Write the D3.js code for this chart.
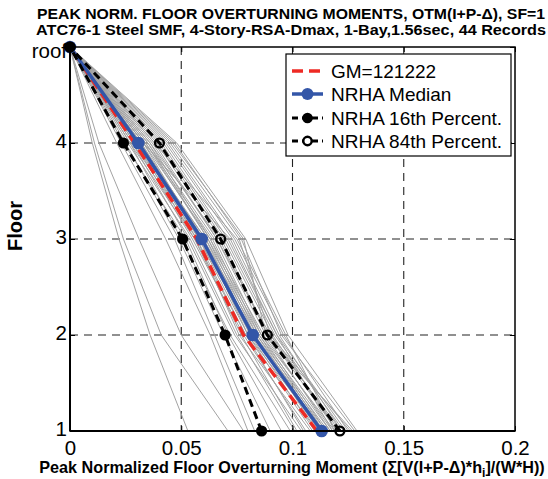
<!DOCTYPE html>
<html>
<head>
<meta charset="utf-8">
<script src="https://cdn.jsdelivr.net/npm/d3@7"></script>
<style>
  html, body { margin: 0; padding: 0; background: #fff; }
  svg { display: block; font-family: "Liberation Sans", Arial, Helvetica, sans-serif; }
</style>
</head>
<body>
<svg id="chart" width="548" height="479"></svg>
<script>
// Floor levels (1..4 and roof = 5) and their tick labels
const floors = [1, 2, 3, 4, 5];
const floorLabels = ["1", "2", "3", "4", "roof"];
const xTicks = [0, 0.05, 0.1, 0.15, 0.2];

// Peak normalized OTM per record (44 records), one array per floor; roof is 0
const otmFloor4 = [0.010, 0.011, 0.013, 0.021, 0.023, 0.025, 0.024, 0.027, 0.026, 0.028, 0.027,
                   0.029, 0.028, 0.030, 0.029, 0.031, 0.030, 0.032, 0.031, 0.033, 0.030, 0.032,
                   0.034, 0.031, 0.033, 0.035, 0.034, 0.036, 0.035, 0.037, 0.036, 0.038, 0.039,
                   0.040, 0.041, 0.042, 0.043, 0.044, 0.045, 0.046, 0.047, 0.048, 0.038, 0.033];
const otmFloor3 = [0.022, 0.024, 0.031, 0.043, 0.047, 0.049, 0.052, 0.050, 0.054, 0.053, 0.056,
                   0.055, 0.057, 0.056, 0.058, 0.057, 0.059, 0.058, 0.060, 0.059, 0.061, 0.060,
                   0.062, 0.061, 0.063, 0.062, 0.064, 0.063, 0.065, 0.066, 0.067, 0.066, 0.068,
                   0.069, 0.070, 0.071, 0.073, 0.074, 0.076, 0.078, 0.077, 0.079, 0.075, 0.072];
const otmFloor2 = [0.036, 0.041, 0.050, 0.063, 0.065, 0.069, 0.071, 0.072, 0.075, 0.074, 0.077,
                   0.078, 0.076, 0.079, 0.080, 0.079, 0.081, 0.082, 0.080, 0.083, 0.082, 0.084,
                   0.083, 0.085, 0.084, 0.086, 0.085, 0.087, 0.086, 0.088, 0.089, 0.090, 0.089,
                   0.091, 0.092, 0.093, 0.094, 0.096, 0.090, 0.088, 0.095, 0.098, 0.097, 0.093];
const otmFloor1 = [0.053, 0.071, 0.078, 0.080, 0.083, 0.090, 0.095, 0.099, 0.101, 0.104, 0.102,
                   0.106, 0.108, 0.105, 0.109, 0.111, 0.110, 0.112, 0.113, 0.111, 0.114, 0.113,
                   0.115, 0.114, 0.116, 0.115, 0.117, 0.118, 0.119, 0.117, 0.120, 0.121, 0.122,
                   0.120, 0.123, 0.124, 0.122, 0.125, 0.126, 0.127, 0.128, 0.129, 0.119, 0.118];

// Summary profiles, floors 1..roof
const gmProfile     = [0.1110, 0.0780, 0.0570, 0.0290, 0];
const medianProfile = [0.1131, 0.0821, 0.0592, 0.0307, 0];
const p16Profile    = [0.0861, 0.0697, 0.0506, 0.0240, 0];
const p84Profile    = [0.1213, 0.0887, 0.0677, 0.0402, 0];

const legendLabels = ["GM=121222", "NRHA Median", "NRHA 16th Percent.", "NRHA 84th Percent."];

const svg = d3.select("#chart");
const plotLeft = 70, plotRight = 515, plotTop = 47, plotBottom = 431;

const x = d3.scaleLinear().domain([0, 0.2]).range([plotLeft, plotRight]);
const y = d3.scaleLinear().domain([1, 5]).range([plotBottom, plotTop]);

const line = d3.line().x(d => x(d[0])).y(d => y(d[1]));
const toPts = arr => arr.map((v, i) => [v, floors[i]]);

// Dashed grid
const grid = svg.append("g");
grid.selectAll("line.gx").data(xTicks.slice(1, -1)).join("line")
  .attr("x1", d => x(d)).attr("x2", d => x(d)).attr("y1", plotTop).attr("y2", plotBottom)
  .attr("stroke", "#222").attr("stroke-width", 1.1).attr("stroke-dasharray", "8,6");
grid.selectAll("line.gy").data([2, 3, 4]).join("line")
  .attr("y1", d => y(d)).attr("y2", d => y(d)).attr("x1", plotLeft).attr("x2", plotRight)
  .attr("stroke", "#222").attr("stroke-width", 1.1).attr("stroke-dasharray", "8,6");

// Individual record profiles
const records = otmFloor1.map((v, i) => [v, otmFloor2[i], otmFloor3[i], otmFloor4[i], 0]);
svg.append("g").selectAll("path").data(records).join("path")
  .attr("d", r => line(toPts(r)))
  .attr("fill", "none").attr("stroke", "#a3a3a3").attr("stroke-width", 1);

// GM profile
svg.append("path").attr("d", line(toPts(gmProfile)))
  .attr("fill", "none").attr("stroke", "#ee2a24").attr("stroke-width", 3.5)
  .attr("stroke-dasharray", "11,6");

// Median
svg.append("path").attr("d", line(toPts(medianProfile)))
  .attr("fill", "none").attr("stroke", "#3356a8").attr("stroke-width", 3.5);
svg.append("g").selectAll("circle").data(toPts(medianProfile)).join("circle")
  .attr("cx", d => x(d[0])).attr("cy", d => y(d[1])).attr("r", 6.3)
  .attr("fill", "#3356a8");

// 16th percentile
svg.append("path").attr("d", line(toPts(p16Profile)))
  .attr("fill", "none").attr("stroke", "#000").attr("stroke-width", 3)
  .attr("stroke-dasharray", "8,5");
svg.append("g").selectAll("circle").data(toPts(p16Profile)).join("circle")
  .attr("cx", d => x(d[0])).attr("cy", d => y(d[1])).attr("r", 5.6)
  .attr("fill", "#000");

// 84th percentile
svg.append("path").attr("d", line(toPts(p84Profile)))
  .attr("fill", "none").attr("stroke", "#000").attr("stroke-width", 3)
  .attr("stroke-dasharray", "8,5");
svg.append("g").selectAll("circle").data(toPts(p84Profile)).join("circle")
  .attr("cx", d => x(d[0])).attr("cy", d => y(d[1])).attr("r", 4.4)
  .attr("fill", "none").attr("stroke", "#000").attr("stroke-width", 2.4);

// Axes box with inward ticks
svg.append("rect").attr("x", plotLeft).attr("y", plotTop)
  .attr("width", plotRight - plotLeft).attr("height", plotBottom - plotTop)
  .attr("fill", "none").attr("stroke", "#000").attr("stroke-width", 1.5);
svg.append("line").attr("x1", plotLeft).attr("x2", plotLeft).attr("y1", plotTop).attr("y2", plotBottom)
  .attr("stroke", "#000").attr("stroke-width", 2);
svg.append("line").attr("x1", plotLeft).attr("x2", plotRight).attr("y1", plotBottom).attr("y2", plotBottom)
  .attr("stroke", "#000").attr("stroke-width", 2);

const tickFont = 20.5;
const xAxis = svg.append("g").attr("transform", `translate(0,${plotBottom})`)
  .call(d3.axisBottom(x).tickValues(xTicks).tickSize(-5).tickPadding(9)
    .tickFormat(d => d === 0 ? "0" : String(+d.toFixed(2))));
xAxis.select(".domain").remove();
xAxis.selectAll("text").attr("font-size", tickFont).attr("fill", "#000")
  .attr("font-family", "Liberation Sans, Arial, sans-serif");
svg.append("g").attr("transform", `translate(0,${plotTop})`)
  .call(d3.axisTop(x).tickValues(xTicks).tickSize(-5).tickFormat(""))
  .select(".domain").remove();

const yAxis = svg.append("g").attr("transform", `translate(${plotLeft},0)`)
  .call(d3.axisLeft(y).tickValues(floors).tickSize(-5).tickPadding(3)
    .tickFormat((d, i) => floorLabels[i]));
yAxis.select(".domain").remove();
yAxis.selectAll("text").attr("font-size", tickFont).attr("fill", "#000")
  .attr("dy", d => d === 5 ? "0.49em" : "0.22em")
  .attr("font-family", "Liberation Sans, Arial, sans-serif");
svg.append("g").attr("transform", `translate(${plotRight},0)`)
  .call(d3.axisRight(y).tickValues(floors).tickSize(-5).tickFormat(""))
  .select(".domain").remove();

// Titles
const title = svg.append("g").attr("font-weight", "bold").attr("font-size", 14);
title.append("text").attr("x", 37).attr("y", 18.8)
  .attr("textLength", 508).attr("lengthAdjust", "spacingAndGlyphs")
  .text("PEAK NORM. FLOOR OVERTURNING MOMENTS, OTM(I+P-\u0394), SF=1");
title.append("text").attr("x", 36).attr("y", 34.6)
  .attr("textLength", 510).attr("lengthAdjust", "spacingAndGlyphs")
  .text("ATC76-1 Steel SMF, 4-Story-RSA-Dmax, 1-Bay,1.56sec, 44 Records");

const xl = svg.append("text").attr("x", 292).attr("y", 473).attr("text-anchor", "middle")
  .attr("font-weight", "bold").attr("font-size", 16.2);
xl.append("tspan").text("Peak Normalized Floor Overturning Moment (\u03A3[V(I+P-\u0394)*h");
xl.append("tspan").attr("font-size", 12).attr("dy", 4).text("i");
xl.append("tspan").attr("dy", -4).text("]/(W*H))");

svg.append("text").attr("transform", "translate(21.5,226) rotate(-90)").attr("text-anchor", "middle")
  .attr("font-weight", "bold").attr("font-size", 20).text("Floor");

// Legend
const lg = svg.append("g");
lg.append("rect").attr("x", 286).attr("y", 54).attr("width", 225).attr("height", 102)
  .attr("fill", "#fff").attr("stroke", "#000").attr("stroke-width", 1.2);
const rowY = [71, 94, 118, 141];
const sx1 = 292, sx2 = 323, smid = 307.5;
// GM sample
lg.append("line").attr("x1", sx1).attr("x2", sx2).attr("y1", rowY[0]).attr("y2", rowY[0])
  .attr("stroke", "#ee2a24").attr("stroke-width", 3.5).attr("stroke-dasharray", "11,6");
// Median sample
lg.append("line").attr("x1", sx1).attr("x2", sx2).attr("y1", rowY[1]).attr("y2", rowY[1])
  .attr("stroke", "#3356a8").attr("stroke-width", 3.5);
lg.append("circle").attr("cx", smid).attr("cy", rowY[1]).attr("r", 6).attr("fill", "#3356a8");
// 16th sample
lg.append("line").attr("x1", sx1).attr("x2", sx2).attr("y1", rowY[2]).attr("y2", rowY[2])
  .attr("stroke", "#000").attr("stroke-width", 3).attr("stroke-dasharray", "6,4");
lg.append("circle").attr("cx", smid).attr("cy", rowY[2]).attr("r", 5.3).attr("fill", "#000");
// 84th sample
lg.append("line").attr("x1", sx1).attr("x2", sx2).attr("y1", rowY[3]).attr("y2", rowY[3])
  .attr("stroke", "#000").attr("stroke-width", 3).attr("stroke-dasharray", "6,4");
lg.append("circle").attr("cx", smid).attr("cy", rowY[3]).attr("r", 4.2).attr("fill", "#fff")
  .attr("stroke", "#000").attr("stroke-width", 2.4);
lg.selectAll("text").data(legendLabels).join("text")
  .attr("x", 331).attr("y", (d, i) => rowY[i] + 7).attr("font-size", 19).text(d => d);
</script>
</body>
</html>
